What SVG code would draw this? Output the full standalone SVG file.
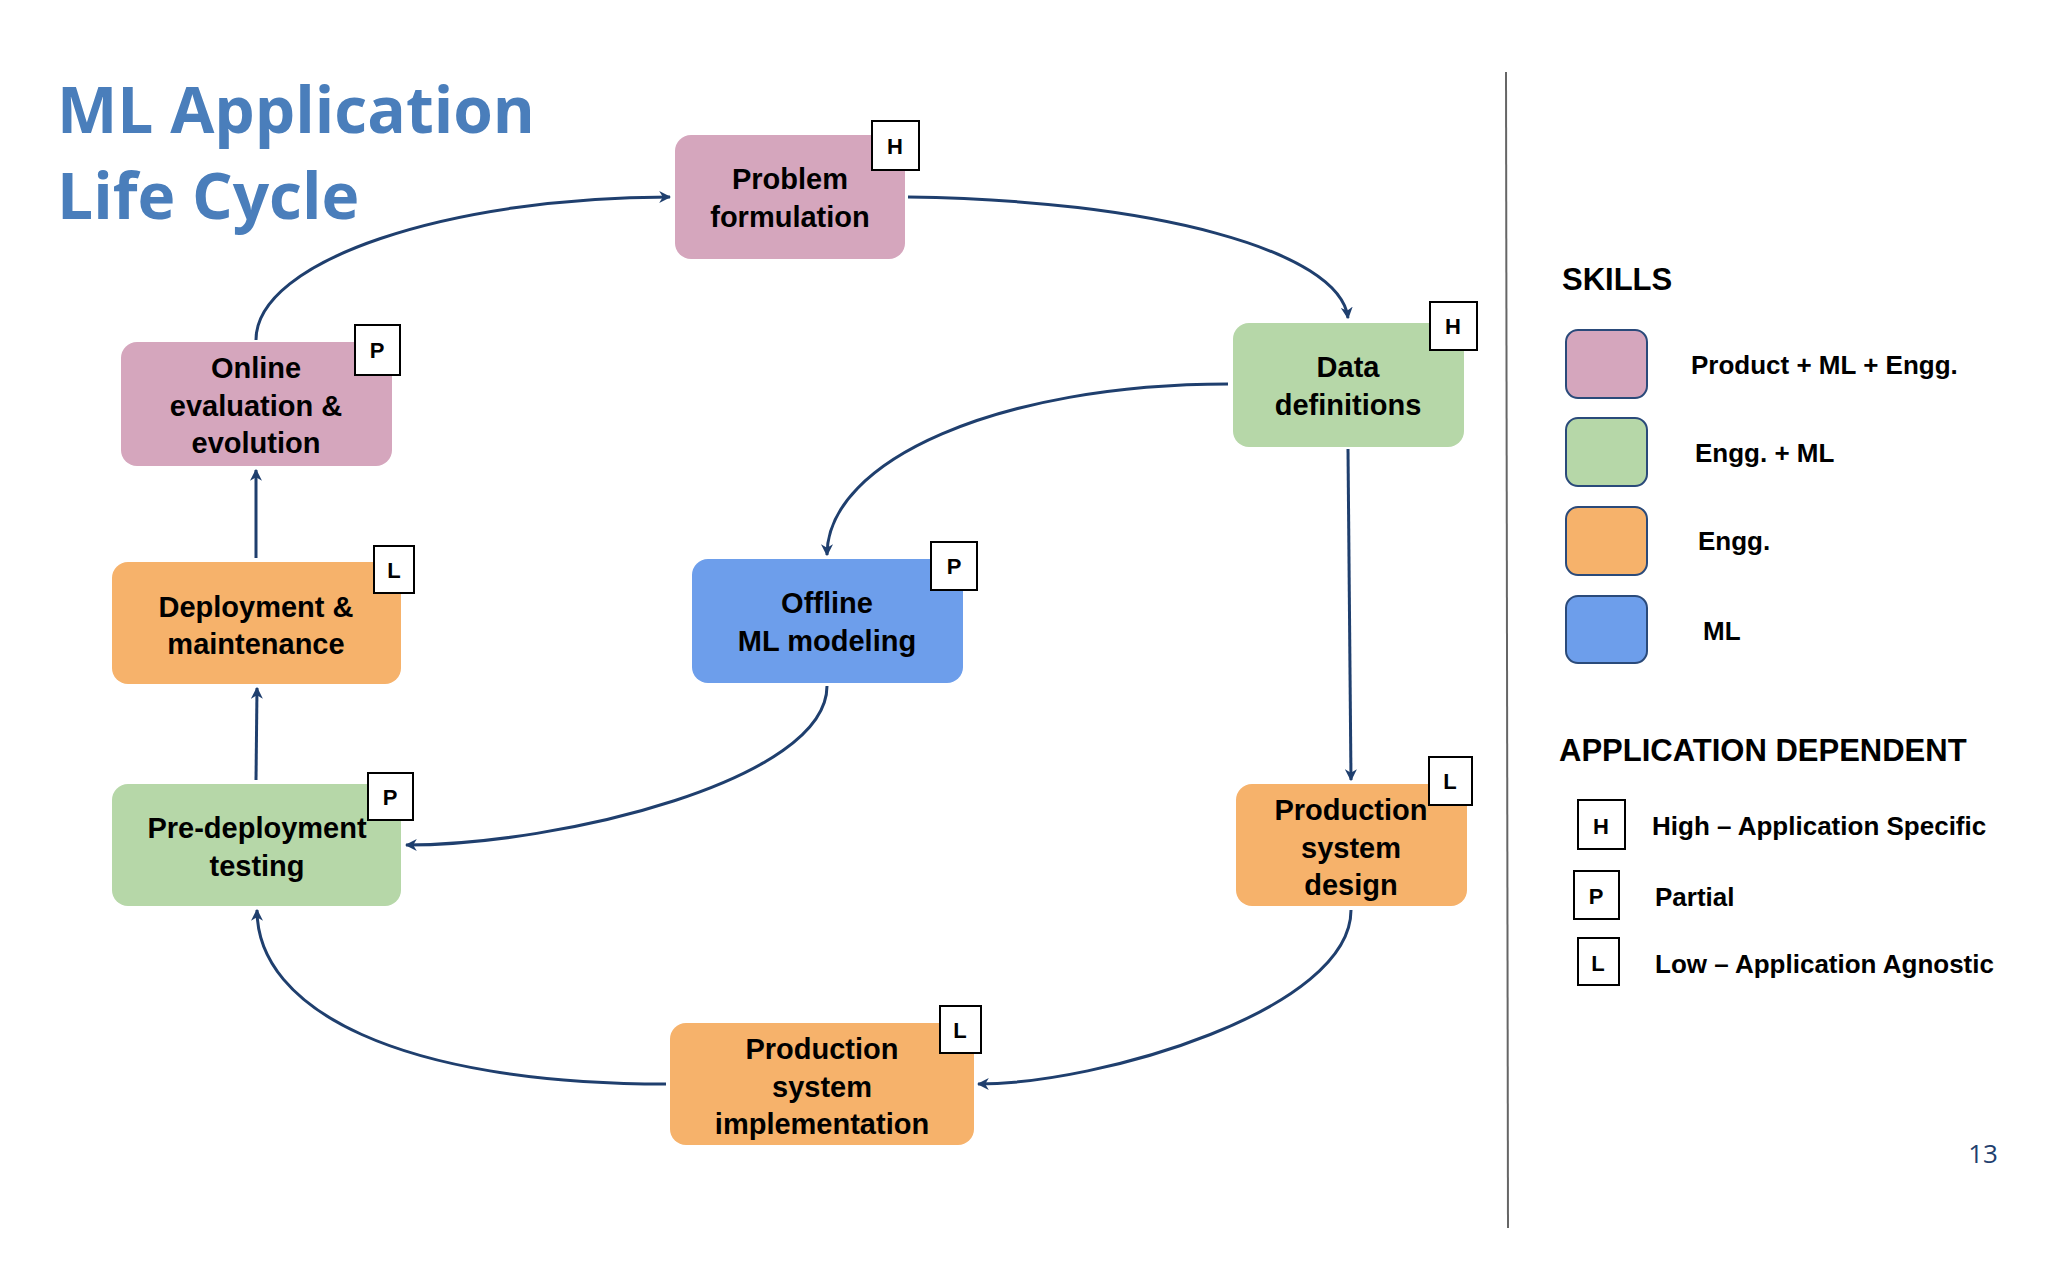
<svg xmlns="http://www.w3.org/2000/svg" width="2048" height="1280" viewBox="0 0 2048 1280">
<defs>
<marker id="ah" viewBox="0 0 10 10" refX="9" refY="5" markerWidth="4" markerHeight="4" orient="auto"><path d="M0,0 L10,5 L0,10 L3,5 z" fill="#1f3f6e"/></marker>
<style>
.t{font-family:"Liberation Sans",Arial,sans-serif;font-weight:bold;fill:#000}
.n{font-size:29px;text-anchor:middle}
.b{fill:#fff;stroke:#000;stroke-width:2}
.bl{font-size:22px;text-anchor:middle}
.pk{fill:#d5a6bd}.gr{fill:#b6d7a8}.or{fill:#f6b26b}.bu{fill:#6d9eeb}
.c{fill:none;stroke:#1f3f6e;stroke-width:3;marker-end:url(#ah)}
.sw{stroke:#2a4a7a;stroke-width:2}
.lg{font-size:26px}
.h{font-size:31px}
</style>
</defs>
<rect width="2048" height="1280" fill="#fff"/>
<text x="57" y="133" font-family="Open Sans,'Liberation Sans',sans-serif" font-weight="bold" font-size="64" fill="#4a7ebb">ML Application</text>
<text x="57" y="219" font-family="Open Sans,'Liberation Sans',sans-serif" font-weight="bold" font-size="64" fill="#4a7ebb">Life Cycle</text>
<line x1="1506" y1="72" x2="1508" y2="1228" stroke="#666" stroke-width="2"/>
<g id="connectors">
<path class="c" d="M256,340 C256,260 450,197 670,197"/>
<path class="c" d="M908,197 C1150,200 1340,250 1348,318"/>
<path class="c" d="M1228,384 C1000,384 827,460 827,555"/>
<path class="c" d="M1348,449 L1351,780"/>
<path class="c" d="M1351,910 C1351,1010 1100,1084 978,1084"/>
<path class="c" d="M666,1084 C400,1084 257,1010 257,910"/>
<path class="c" d="M827,686 C827,780 560,845 406,845"/>
<path class="c" d="M256,780 L257,688"/>
<path class="c" d="M256,558 L256,470"/>
</g>
<g id="problem"><rect class="pk" x="675" y="135" width="230" height="124" rx="16"/><text class="t n" x="790" y="189">Problem</text><text class="t n" x="790" y="227">formulation</text><rect class="b" x="872" y="121" width="47" height="49"/><text class="t bl" x="895" y="154">H</text></g>
<g id="data"><rect class="gr" x="1233" y="323" width="231" height="124" rx="16"/><text class="t n" x="1348" y="377">Data</text><text class="t n" x="1348" y="415">definitions</text><rect class="b" x="1430" y="302" width="47" height="48"/><text class="t bl" x="1453" y="334">H</text></g>
<g id="online"><rect class="pk" x="121" y="342" width="271" height="124" rx="16"/><text class="t n" x="256" y="378">Online</text><text class="t n" x="256" y="416">evaluation &amp;</text><text class="t n" x="256" y="453">evolution</text><rect class="b" x="355" y="325" width="45" height="50"/><text class="t bl" x="377" y="358">P</text></g>
<g id="deploy"><rect class="or" x="112" y="562" width="289" height="122" rx="16"/><text class="t n" x="256" y="617">Deployment &amp;</text><text class="t n" x="256" y="654">maintenance</text><rect class="b" x="374" y="546" width="40" height="47"/><text class="t bl" x="394" y="578">L</text></g>
<g id="offline"><rect class="bu" x="692" y="559" width="271" height="124" rx="16"/><text class="t n" x="827" y="613">Offline</text><text class="t n" x="827" y="651">ML modeling</text><rect class="b" x="931" y="542" width="46" height="48"/><text class="t bl" x="954" y="574">P</text></g>
<g id="predeploy"><rect class="gr" x="112" y="784" width="289" height="122" rx="16"/><text class="t n" x="257" y="838">Pre-deployment</text><text class="t n" x="257" y="876">testing</text><rect class="b" x="368" y="773" width="45" height="47"/><text class="t bl" x="390" y="805">P</text></g>
<g id="design"><rect class="or" x="1236" y="784" width="231" height="122" rx="16"/><text class="t n" x="1351" y="820">Production</text><text class="t n" x="1351" y="858">system</text><text class="t n" x="1351" y="895">design</text><rect class="b" x="1429" y="757" width="43" height="48"/><text class="t bl" x="1450" y="789">L</text></g>
<g id="impl"><rect class="or" x="670" y="1023" width="304" height="122" rx="16"/><text class="t n" x="822" y="1059">Production</text><text class="t n" x="822" y="1097">system</text><text class="t n" x="822" y="1134">implementation</text><rect class="b" x="940" y="1006" width="41" height="47"/><text class="t bl" x="960" y="1038">L</text></g>
<g id="legend">
<text class="t h" x="1562" y="290">SKILLS</text>
<rect class="pk sw" x="1566" y="330" width="81" height="68" rx="12"/><text class="t lg" x="1691" y="374">Product + ML + Engg.</text>
<rect class="gr sw" x="1566" y="418" width="81" height="68" rx="12"/><text class="t lg" x="1695" y="462">Engg. + ML</text>
<rect class="or sw" x="1566" y="507" width="81" height="68" rx="12"/><text class="t lg" x="1698" y="550">Engg.</text>
<rect class="bu sw" x="1566" y="596" width="81" height="67" rx="12"/><text class="t lg" x="1703" y="640">ML</text>
<text class="t h" x="1559" y="761">APPLICATION DEPENDENT</text>
<rect class="b" x="1578" y="800" width="47" height="49"/><text class="t bl" x="1601" y="834">H</text><text class="t lg" x="1652" y="835">High – Application Specific</text>
<rect class="b" x="1574" y="871" width="45" height="48"/><text class="t bl" x="1596" y="904">P</text><text class="t lg" x="1655" y="906">Partial</text>
<rect class="b" x="1578" y="938" width="41" height="47"/><text class="t bl" x="1598" y="971">L</text><text class="t lg" x="1655" y="973">Low – Application Agnostic</text>
</g>
<text x="1983" y="1163" font-family="Open Sans,'Liberation Sans',sans-serif" font-size="26" fill="#1f3f6e" text-anchor="middle">13</text>
</svg>
